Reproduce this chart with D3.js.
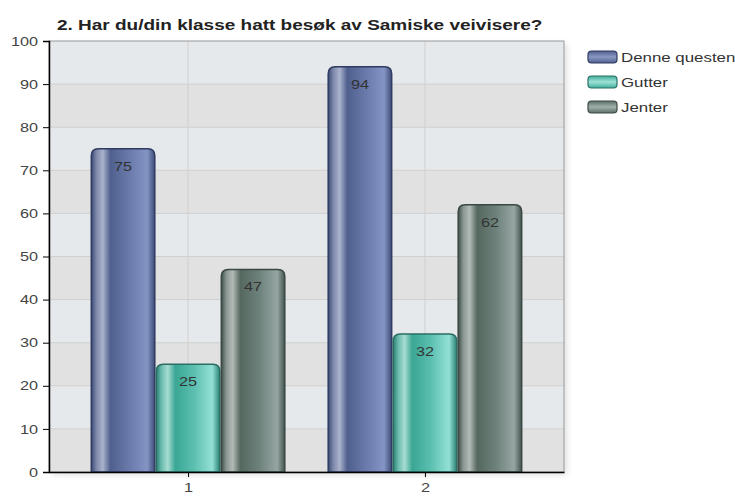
<!DOCTYPE html>
<html><head><meta charset="utf-8">
<script src="https://cdn.jsdelivr.net/npm/d3@7"></script>
<style>body{margin:0;background:#fff;}svg{display:block;font-family:"Liberation Sans",Arial,sans-serif;}</style>
</head><body>
<svg id="c" width="735" height="496"></svg>
<script>
const title = "2. Har du/din klasse hatt besøk av Samiske veivisere?";
const categories = ["1", "2"];
const seriesNames = ["Denne questen", "Gutter", "Jenter"];
const denneQuesten = [75, 94];
const gutter = [25, 32];
const jenter = [47, 62];
const yTicks = [0,10,20,30,40,50,60,70,80,90,100];

const SX = 1.25; // horizontal text stretch seen in the reference
const seriesValues = [denneQuesten, gutter, jenter];
const palettes = [
  {id:"gBlue", stroke:"#2f3b60", stops:["#3c4a74","#7d88aa","#aab3cc","#4f5f8e","#6a7aaa","#8494c4","#3e4c78"], mid:"#8a98c4", edge:"#4f5e8c"},
  {id:"gTeal", stroke:"#2a6e64", stops:["#2a7f72","#6abcae","#a8dcd2","#3aa694","#5cc0b0","#94e0d6","#2a8275"], mid:"#9ee2d6", edge:"#3fae9c"},
  {id:"gGray", stroke:"#3a4843", stops:["#3f4f4a","#8a9692","#b2bab6","#55685f","#6e827c","#96a6a2","#44544f"], mid:"#a2b0ac", edge:"#5a6e67"}
];
const offs = [0,0.08,0.18,0.3,0.6,0.88,1];

const svg = d3.select("#c");
const defs = svg.append("defs");
palettes.forEach(p=>{
  const g = defs.append("linearGradient").attr("id",p.id).attr("x1","0").attr("x2","1").attr("y1","0").attr("y2","0");
  p.stops.forEach((c,i)=>g.append("stop").attr("offset",offs[i]).attr("stop-color",c));
  const v = defs.append("linearGradient").attr("id",p.id+"V").attr("x1","0").attr("x2","0").attr("y1","0").attr("y2","1");
  v.append("stop").attr("offset",0).attr("stop-color",p.edge);
  v.append("stop").attr("offset",0.5).attr("stop-color",p.mid);
  v.append("stop").attr("offset",1).attr("stop-color",p.edge);
});
const sh = defs.append("filter").attr("id","sh").attr("x","-10%").attr("y","-10%").attr("width","130%").attr("height","130%");
sh.append("feGaussianBlur").attr("in","SourceAlpha").attr("stdDeviation",3);

const L=49, R=564, T=41, B=472;
const y = d3.scaleLinear().domain([0,100]).range([B,T]);
const x0 = d3.scalePoint().domain(categories).range([L,R]).padding(0.587);
const groupW = 195;
const x1 = d3.scaleBand().domain(seriesNames).range([-groupW/2, groupW/2]).padding(0);

function stretchText(sel, x, yy){
  sel.attr("x",0).attr("y",0).attr("transform",`translate(${x},${yy}) scale(${SX},1)`);
}

// plot shadow
svg.append("rect").attr("x",L+3).attr("y",T+3).attr("width",R-L).attr("height",B-T)
  .attr("fill","#000").attr("opacity",0.12).attr("filter","url(#sh)");
// bands
svg.append("g").selectAll("rect").data(yTicks.slice(0,-1)).join("rect")
  .attr("x",L).attr("width",R-L)
  .attr("y",d=>y(d+10)).attr("height",d=>y(d)-y(d+10))
  .attr("fill",(d,i)=> i%2===0 ? "#e1e1e1" : "#e6e9ec");
// grid
svg.append("g").selectAll("line").data(yTicks.slice(1,-1)).join("line")
  .attr("x1",L).attr("x2",R).attr("y1",d=>y(d)).attr("y2",d=>y(d))
  .attr("stroke","#d0d0d0").attr("stroke-width",1);
svg.append("g").selectAll("line").data(categories).join("line")
  .attr("x1",d=>x0(d)).attr("x2",d=>x0(d)).attr("y1",T).attr("y2",B)
  .attr("stroke","#d0d0d0").attr("stroke-width",1);
// border
svg.append("rect").attr("x",L).attr("y",T).attr("width",R-L).attr("height",B-T)
  .attr("fill","none").attr("stroke","#9a9a9a").attr("stroke-width",1);

// bars
function barPath(x,yt,w,h,r){
  r=Math.min(r,h,w/2);
  return `M${x},${yt+h}V${yt+r}Q${x},${yt} ${x+r},${yt}H${x+w-r}Q${x+w},${yt} ${x+w},${yt+r}V${yt+h}Z`;
}
const bars = svg.append("g");
categories.forEach((c,ci)=>{
  seriesNames.forEach((s,si)=>{
    const v = seriesValues[si][ci];
    const bx = x0(c)+x1(s), bw = x1.bandwidth();
    bars.append("path")
      .attr("d",barPath(bx+0.75,y(v),bw-1.5,B-y(v),7))
      .attr("fill",`url(#${palettes[si].id})`)
      .attr("stroke",palettes[si].stroke).attr("stroke-width",1.5);
    bars.append("text").attr("text-anchor","middle").attr("font-size",13).attr("fill","#333").text(v)
      .call(stretchText, bx+bw/2, y(v)+22);
  });
});

// axes
const ya = svg.append("g").attr("transform",`translate(${L},0)`)
  .call(d3.axisLeft(y).tickValues(yTicks).tickSize(6).tickPadding(5));
ya.select(".domain").attr("stroke","#000").attr("stroke-width",1.5);
ya.selectAll("text").attr("font-size",13).attr("fill","#444").attr("font-family","Liberation Sans, Arial, sans-serif")
  .attr("x",-11/SX).attr("transform",`scale(${SX},1)`);
const xa = svg.append("g").attr("transform",`translate(0,${B})`)
  .call(d3.axisBottom(x0).tickSize(5).tickPadding(6).tickSizeOuter(0));
xa.select(".domain").attr("stroke","#000").attr("stroke-width",1.5);
xa.selectAll("text").attr("font-size",13).attr("fill","#444").attr("font-family","Liberation Sans, Arial, sans-serif")
  .attr("transform",`scale(${SX},1)`);

// title
svg.append("text").attr("font-size",15.2).attr("font-weight","bold")
  .attr("fill","#222").text(title).call(stretchText, 57, 30);

// legend
const lg = svg.append("g");
seriesNames.forEach((s,i)=>{
  const yy = 57 + i*25;
  lg.append("rect").attr("x",588).attr("y",yy-6).attr("width",29).attr("height",12).attr("rx",3.5)
    .attr("fill",`url(#${palettes[i].id}V)`).attr("stroke",palettes[i].stroke).attr("stroke-width",1.2);
  lg.append("text").attr("font-size",13.5).attr("fill","#333").text(s).call(stretchText, 621, yy+5);
});
</script>
</body></html>
